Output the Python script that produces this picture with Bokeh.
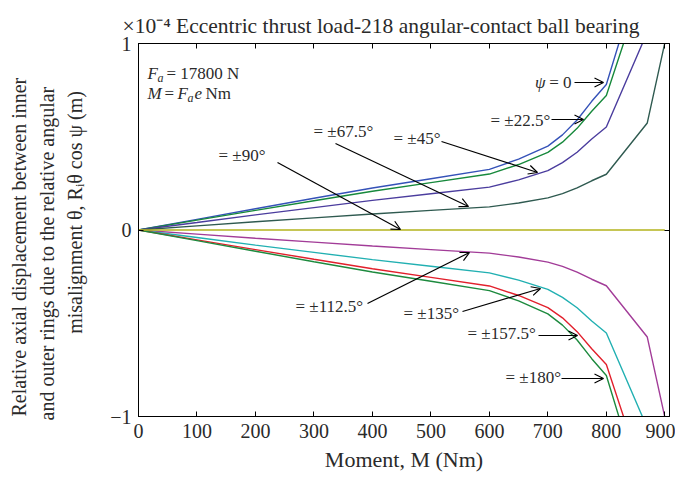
import math
from bokeh.plotting import figure
from bokeh.models import Label, Arrow, OpenHead, LinearAxis, FixedTicker, Range1d, Title
from bokeh.embed import file_html
from bokeh.resources import INLINE

# ---------------- data (relative axial displacement, units of 1e-4 m) ----------------
moment = [0, 100, 200, 300, 400, 500, 600, 650, 700, 725, 750, 775, 800, 870, 900]
psi_0 = [0, 0.057, 0.114, 0.170, 0.225, 0.275, 0.325, 0.380, 0.450, 0.510, 0.590, 0.690, 0.780, 1.500, 2.620]
psi_22_5 = [0, 0.053, 0.105, 0.157, 0.208, 0.254, 0.300, 0.351, 0.416, 0.471, 0.545, 0.637, 0.721, 1.386, 2.421]
psi_45 = [0, 0.040, 0.081, 0.120, 0.159, 0.194, 0.230, 0.269, 0.318, 0.361, 0.417, 0.488, 0.552, 1.061, 1.853]
psi_67_5 = [0, 0.022, 0.044, 0.065, 0.086, 0.105, 0.124, 0.145, 0.172, 0.195, 0.226, 0.264, 0.299, 0.574, 1.003]
psi_90 = [0, 0, 0, 0, 0, 0, 0, 0, 0, 0, 0, 0, 0, 0, 0]
psi_112_5 = [0, -0.022, -0.044, -0.065, -0.086, -0.105, -0.124, -0.145, -0.172, -0.195, -0.226, -0.264, -0.299, -0.574, -1.003]
psi_135 = [0, -0.040, -0.081, -0.120, -0.159, -0.194, -0.230, -0.269, -0.318, -0.361, -0.417, -0.488, -0.552, -1.061, -1.853]
psi_157_5 = [0, -0.053, -0.105, -0.157, -0.208, -0.254, -0.300, -0.351, -0.416, -0.471, -0.545, -0.637, -0.721, -1.386, -2.421]
psi_180 = [0, -0.057, -0.114, -0.170, -0.225, -0.275, -0.325, -0.380, -0.450, -0.510, -0.590, -0.690, -0.780, -1.500, -2.620]

x_ticks = [0, 100, 200, 300, 400, 500, 600, 700, 800, 900]
y_ticks = [-1, 0, 1]
y_tick_labels = {-1: "\u22121", 0: "0", 1: "1"}

title_text = "\u00d710\u207b\u2074 Eccentric thrust load-218 angular-contact ball bearing"
xlabel_text = "Moment, M (Nm)"
ylabel_lines = ["Relative axial displacement between inner",
                "and outer rings due to the relative angular",
                "misalignment \u03b8, R\u1d62\u03b8 cos \u03c8 (m)"]

series = [
    (psi_0, "#3552b8"),
    (psi_22_5, "#17893c"),
    (psi_45, "#4b3d9e"),
    (psi_67_5, "#2f5a50"),
    (psi_112_5, "#a23c98"),
    (psi_135, "#22b0b2"),
    (psi_157_5, "#e2202c"),
    (psi_180, "#1d8a3e"),
    (psi_90, "#b4b41e"),
]

FONT = "Liberation Serif"
TXT = "#2a2a2a"

# ---------------- geometry (page pixels) ----------------
X0, X1 = 0, 908
Y0, Y1 = -1, 1
FL, FR, FT, FB = 138, 669, 43, 416  # frame in page pixels


def dx(px):
    return X0 + (px - FL) / (FR - FL) * (X1 - X0)


def dy(py):
    return Y1 - (py - FT) / (FB - FT) * (Y1 - Y0)


W, H = 675, 476
p = figure(width=W, height=H, output_backend="svg", toolbar_location=None,
           x_range=Range1d(X0, X1), y_range=Range1d(Y0, Y1),
           min_border_left=FL, min_border_right=W - FR,
           min_border_top=FT, min_border_bottom=H - FB)
p.background_fill_color = "white"
p.border_fill_color = "white"
p.outline_line_color = "black"
p.outline_line_width = 1
p.grid.visible = False

p.title.text = title_text
p.title.align = "left"
p.title.offset = -16
p.title.text_font = FONT
p.title.text_font_size = "21.5px"
p.title.text_font_style = "normal"
p.title.text_color = TXT
p.title.standoff = 12

for ax in p.xaxis:
    ax.ticker = FixedTicker(ticks=x_ticks)
    ax.axis_label = xlabel_text
    ax.axis_label_text_font = FONT
    ax.axis_label_text_font_size = "22px"
    ax.axis_label_text_font_style = "normal"
    ax.axis_label_text_color = TXT
    ax.axis_label_standoff = 6
for ax in p.yaxis:
    ax.ticker = FixedTicker(ticks=y_ticks)
    ax.major_label_overrides = y_tick_labels
    # third line of the y label; leading no-break spaces lift it above the frame centre
    ax.axis_label = "\u00a0" * 7 + ylabel_lines[2]
    ax.axis_label_text_font = FONT
    ax.axis_label_text_font_size = "20px"
    ax.axis_label_text_font_style = "normal"
    ax.axis_label_text_color = TXT
    ax.axis_label_standoff = 21

for ax in list(p.xaxis) + list(p.yaxis):
    ax.major_tick_in = 5
    ax.major_tick_out = 0
    ax.minor_tick_in = 0
    ax.minor_tick_out = 0
    ax.axis_line_color = "black"
    ax.major_tick_line_color = "black"
    ax.major_label_text_font = FONT
    ax.major_label_text_font_size = "20px"
    ax.major_label_text_color = TXT
    ax.major_label_standoff = 7

top = LinearAxis(ticker=FixedTicker(ticks=x_ticks), major_tick_in=5, major_tick_out=0,
                 minor_tick_in=0, minor_tick_out=0, major_label_text_font_size="1px",
                 major_label_overrides={t: "" for t in x_ticks}, major_label_standoff=0)
right = LinearAxis(ticker=FixedTicker(ticks=y_ticks), major_tick_in=5, major_tick_out=0,
                   minor_tick_in=0, minor_tick_out=0, major_label_text_font_size="1px",
                   major_label_overrides={t: "" for t in y_ticks}, major_label_standoff=0)
p.add_layout(top, "above")
p.add_layout(right, "right")

# first two lines of the y label as side titles (nearest the frame first)
for txt, off, so in [(ylabel_lines[1], -4, 8), (ylabel_lines[0], 0, 0)]:
    t = Title(text=txt, align="left", offset=off, vertical_align="bottom", text_font=FONT,
              text_font_size="20px", text_font_style="normal", text_color=TXT, standoff=so)
    p.add_layout(t, "left")

for ys, col in series:
    p.line(moment, ys, line_color=col, line_width=1.4)


def label(px, py, text, size="17px", align="left", style="normal", baseline="middle", angle=0.0):
    p.add_layout(Label(x=dx(px), y=dy(py), text=text, text_font=FONT, text_font_size=size,
                       text_align=align, text_baseline=baseline, text_font_style=style,
                       text_color=TXT, angle=angle))


def arrow(x_a, y_a, x_b, y_b):
    p.add_layout(Arrow(x_start=dx(x_a), y_start=dy(y_a), x_end=dx(x_b), y_end=dy(y_b),
                       line_color="black", line_width=1.2,
                       end=OpenHead(size=9, line_color="black", line_width=1.2)))


# inset text
label(147, 73, "F", size="17px", style="italic", baseline="alphabetic")
label(157, 77, "a", size="12px", style="italic", baseline="alphabetic")
label(166, 73, "= 17800 N", size="17px", baseline="alphabetic")
label(147, 93, "M", size="17px", style="italic", baseline="alphabetic")
label(164, 93, "=", size="17px", baseline="alphabetic")
label(177, 93, "F", size="17px", style="italic", baseline="alphabetic")
label(187, 97, "a", size="12px", style="italic", baseline="alphabetic")
label(194, 93, "e", size="17px", style="italic", baseline="alphabetic")
label(205, 93, "Nm", size="17px", baseline="alphabetic")

# curve annotations
label(545, 82, "\u03c8", style="italic", align="right")
label(571, 82, "= 0", align="right")
arrow(574, 82, 603, 82)
label(490, 120, "= \u00b122.5\u00b0")
arrow(551, 119, 583, 119)
label(393, 138, "= \u00b145\u00b0")
arrow(441, 141, 537, 172)
label(313, 131, "= \u00b167.5\u00b0")
arrow(335, 143, 468, 206)
label(218, 155, "= \u00b190\u00b0")
arrow(277, 162, 400, 229)
label(295, 306, "= \u00b1112.5\u00b0")
arrow(367, 303, 469, 252)
label(403, 313, "= \u00b1135\u00b0")
arrow(462, 311, 540, 288)
label(467, 333, "= \u00b1157.5\u00b0")
arrow(538, 335, 577, 335)
label(505, 377, "= \u00b1180\u00b0")
arrow(561, 378, 603, 378)

open("out.html", "w").write(file_html(p, INLINE))
